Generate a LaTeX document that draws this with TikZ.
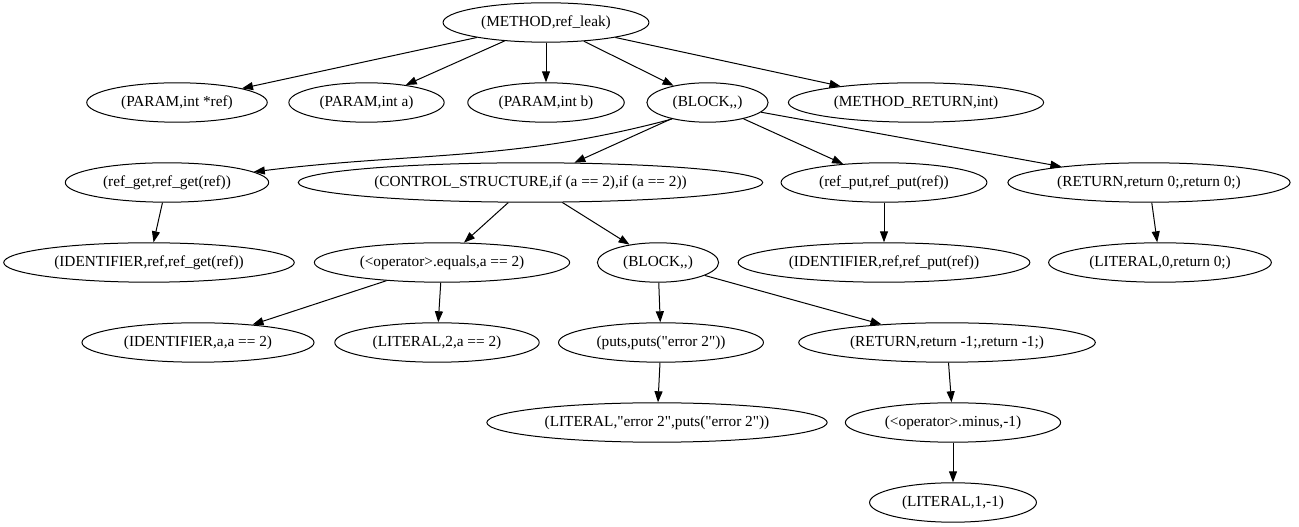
\documentclass[tikz,border=0pt]{standalone}
\usepackage{fontspec}
\setmainfont{Liberation Serif}[Ligatures=TeXOff]
\usetikzlibrary{shapes.geometric,arrows.meta}

\begin{document}
\begin{tikzpicture}[x=1pt,y=1pt,line width=1pt,
  >={Triangle[length=11pt,width=8pt]},
  font=\fontsize{15.3}{18}\selectfont,
  ast/.style={draw,ellipse,inner xsep=8pt,inner ysep=2pt,minimum height=39.4pt}]
\useasboundingbox (0,0) rectangle (1299,527);

\node[ast] (method) at (546,504.5) {(METHOD,ref\_leak)};

\node[ast] (parRef) at (177,424.5) {(PARAM,int *ref)};
\node[ast] (parA) at (366.5,424.5) {(PARAM,int a)};
\node[ast] (parB) at (546,424.5) {(PARAM,int b)};
\node[ast] (blk) at (707.5,424.5) {(BLOCK,,)};
\node[ast] (mret) at (916,424.5) {(METHOD\_RETURN,int)};

\node[ast] (refGet) at (167,344.5) {(ref\_get,ref\_get(ref))};
\node[ast] (ctrl) at (530.5,344.5) {(CONTROL\_STRUCTURE,if (a == 2),if (a == 2))};
\node[ast] (refPut) at (884,344.5) {(ref\_put,ref\_put(ref))};
\node[ast] (ret0) at (1149,344.5) {(RETURN,return 0;,return 0;)};

\node[ast] (idGet) at (149,264.5) {(IDENTIFIER,ref,ref\_get(ref))};
\node[ast] (eq) at (442,264.5) {(<operator>.equals,a == 2)};
\node[ast] (blk2) at (658,264.5) {(BLOCK,,)};
\node[ast] (idPut) at (884,264.5) {(IDENTIFIER,ref,ref\_put(ref))};
\node[ast] (lit0) at (1160,264.5) {(LITERAL,0,return 0;)};

\node[ast] (idA) at (198,184.5) {(IDENTIFIER,a,a == 2)};
\node[ast] (lit2) at (437,184.5) {(LITERAL,2,a == 2)};
\node[ast] (puts) at (661,184.5) {(puts,puts("error 2"))};
\node[ast] (retM1) at (947,184.5) {(RETURN,return -1;,return -1;)};

\node[ast] (litErr) at (657,104.5) {(LITERAL,"error 2",puts("error 2"))};
\node[ast] (minus) at (953,104.5) {(<operator>.minus,-1)};

\node[ast] (lit1) at (953,24.5) {(LITERAL,1,-1)};

\draw[->] (method)--(parRef);
\draw[->] (method)--(parA);
\draw[->] (method)--(parB);
\draw[->] (method)--(blk);
\draw[->] (method)--(mret);

\draw[->] (blk.205)to[out=195,in=7](refGet);
\draw[->] (blk)--(ctrl);
\draw[->] (blk)--(refPut);
\draw[->] (blk)--(ret0);

\draw[->] (refGet)--(idGet);
\draw[->] (ctrl)--(eq);
\draw[->] (ctrl)--(blk2);
\draw[->] (refPut)--(idPut);
\draw[->] (ret0)--(lit0);

\draw[->] (eq)--(idA);
\draw[->] (eq)--(lit2);
\draw[->] (blk2)--(puts);
\draw[->] (blk2)--(retM1);

\draw[->] (puts)--(litErr);
\draw[->] (retM1)--(minus);
\draw[->] (minus)--(lit1);
\end{tikzpicture}
\end{document}
